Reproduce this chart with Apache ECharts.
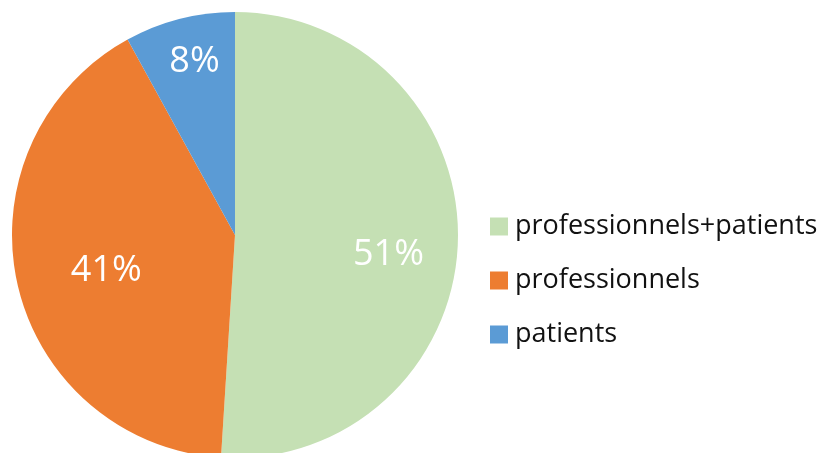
<!DOCTYPE html>
<html>
<head>
<meta charset="utf-8">
<script src="https://cdn.jsdelivr.net/npm/echarts@6/dist/echarts.min.js"></script>
<style>html,body{margin:0;padding:0;background:#fff;}#c{width:831px;height:453px;}</style>
</head>
<body>
<div id="c"></div>
<script>
const categories = ['professionnels+patients', 'professionnels', 'patients'];
const values = [51, 41, 8];
const colors = ['#C5E0B4', '#ED7D31', '#5B9BD5'];
const labelOffsets = [[39, 16], [-17, 11], [-12, -62]];

const chart = echarts.init(document.getElementById('c'), null, {renderer: 'canvas'});
chart.setOption({
  animation: false,
  legend: {
    orient: 'vertical',
    left: 490,
    top: 213,
    padding: 0,
    itemWidth: 18,
    itemHeight: 18,
    itemGap: 27,
    icon: 'rect',
    data: categories,
    textStyle: {fontFamily: 'Open Sans', fontSize: 27, color: '#111', padding: [0, 0, 0, 2]}
  },
  series: [{
    type: 'pie',
    center: [235, 235],
    radius: 223,
    startAngle: 90,
    clockwise: true,
    avoidLabelOverlap: false,
    itemStyle: {borderWidth: 0},
    label: {
      show: true,
      position: 'inside',
      formatter: '{c}%',
      color: '#fff',
      fontFamily: 'Open Sans',
      fontSize: 36
    },
    labelLine: {show: false},
    emphasis: {disabled: true},
    data: categories.map((n, i) => ({
      name: n, value: values[i],
      itemStyle: {color: colors[i]},
      label: {offset: labelOffsets[i]}
    }))
  }]
});
</script>
</body>
</html>
